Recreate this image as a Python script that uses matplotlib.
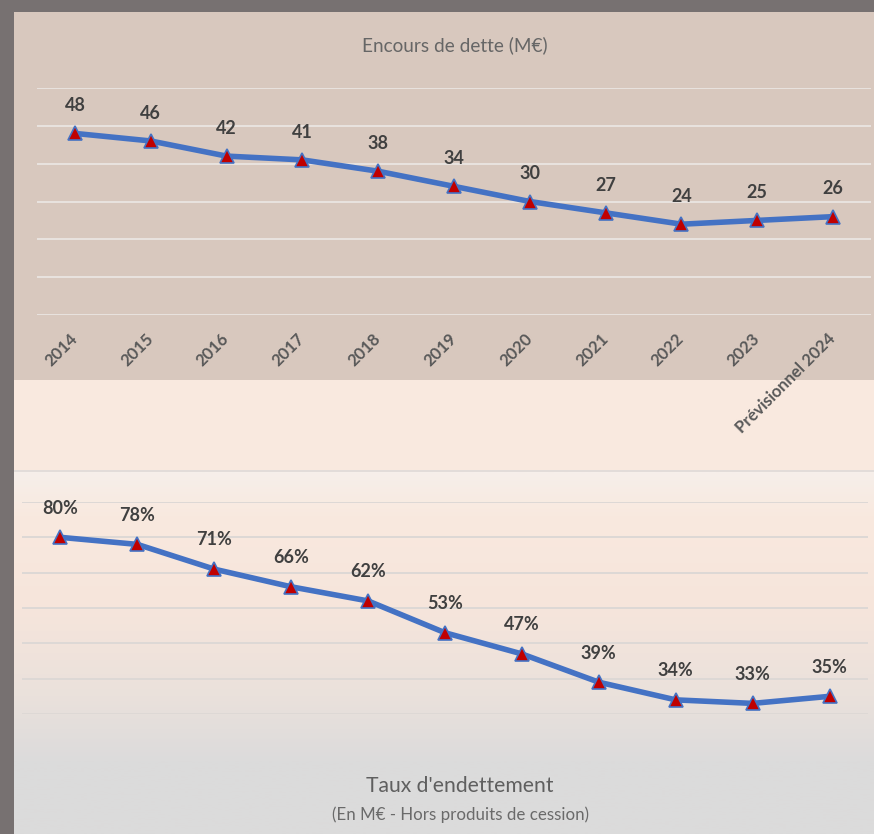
import matplotlib
matplotlib.use("Agg")
import matplotlib.pyplot as plt
import numpy as np
from matplotlib.patches import Rectangle
from matplotlib.colors import LinearSegmentedColormap

plt.rcParams['font.family'] = ['Lato', 'DejaVu Sans']

years = ["2014", "2015", "2016", "2017", "2018", "2019", "2020", "2021",
         "2022", "2023", "Prévisionnel 2024"]
debt = [48, 46, 42, 41, 38, 34, 30, 27, 24, 25, 26]
rate = [80, 78, 71, 66, 62, 53, 47, 39, 34, 33, 35]

W, H = 874, 834
fig = plt.figure(figsize=(W / 100, H / 100), dpi=100)
fig.patch.set_facecolor("#777171")

def fx(px):
    return px / W

def fy(py):
    return 1 - py / H

# panel backgrounds
fig.patches.append(Rectangle((fx(14), fy(380)), fx(W - 14), fy(12) - fy(380),
                             transform=fig.transFigure, facecolor="#d8c8be",
                             edgecolor="none", zorder=0))
fig.patches.append(Rectangle((fx(14), fy(470)), fx(W - 14), fy(380) - fy(470),
                             transform=fig.transFigure, facecolor="#f9e9df",
                             edgecolor="none", zorder=0))
fig.patches.append(Rectangle((fx(14), fy(472)), fx(W - 14), fy(470) - fy(472),
                             transform=fig.transFigure, facecolor="#e2dcd9",
                             edgecolor="none", zorder=0))

# gradient for the lower panel
bg = fig.add_axes([fx(14), 0, fx(W - 14), fy(472)], zorder=0)
cmap = LinearSegmentedColormap.from_list(
    "bg", [(0.0, "#f6efea"), (0.12, "#f9e9df"), (0.38, "#f6e5db"),
           (0.62, "#eae1dc"), (0.8, "#dcdbdb"), (1.0, "#dbdbdb")])
bg.imshow(np.linspace(0, 1, 256).reshape(-1, 1), aspect="auto", cmap=cmap,
          extent=[0, 1, 0, 1])
bg.axis("off")

line_color = "#4472c4"
label_color = "#404040"
tick_color = "#595959"

def draw(ax, values, ylim, step, grid_color, fmt, offset):
    x = np.arange(len(values))
    ax.set_facecolor("none")
    ax.plot(x, values, color=line_color, lw=4, zorder=3,
            solid_joinstyle="round", solid_capstyle="round")
    ax.plot(x, values, ls="none", marker="^", ms=10, mfc="#c00000",
            mec=line_color, mew=1.2, zorder=4)
    for xi, v in zip(x, values):
        ax.annotate(fmt.format(v), (xi, v), xytext=(0, offset),
                    textcoords="offset points", ha="center", va="center",
                    fontsize=13, fontweight="bold", color=label_color)
    ax.set_xlim(-0.5, len(values) - 0.5)
    ax.set_ylim(*ylim)
    for gy in np.arange(ylim[0], ylim[1] + step / 2, step):
        ax.axhline(gy, color=grid_color, lw=1.4, zorder=1)
    for s in ax.spines.values():
        s.set_visible(False)
    ax.set_yticks([])
    ax.tick_params(axis="x", length=0)

ax1 = fig.add_axes([fx(37), fy(315), fx(871 - 37), fy(88) - fy(315)], zorder=2)
draw(ax1, debt, (0, 60), 10, "#e9e3df", "{}", 20)
ax1.set_xticks(range(len(years)))
ax1.set_xticklabels(years, rotation=45, ha="right", va="center",
                    rotation_mode="anchor", fontsize=12, fontweight="bold",
                    color=tick_color)
ax1.tick_params(axis="x", pad=15)

ax2 = fig.add_axes([fx(22), fy(714), fx(868 - 22), fy(502) - fy(714)], zorder=2)
draw(ax2, rate, (30, 90), 10, "#ddd8d5", "{}%", 21)
ax2.set_xticks([])

fig.text(fx(455), fy(45), "Encours de dette (M€)", ha="center", va="center",
         fontsize=13.7, color="#666666")
fig.text(fx(460), fy(786), "Taux d'endettement", ha="center", va="center",
         fontsize=15.2, color="#5f5f5f")
fig.text(fx(461), fy(815), "(En M€ - Hors produits de cession)", ha="center",
         va="center", fontsize=12.2, color="#6a6a6a")

fig.savefig("out.png", dpi=100, facecolor=fig.get_facecolor())
